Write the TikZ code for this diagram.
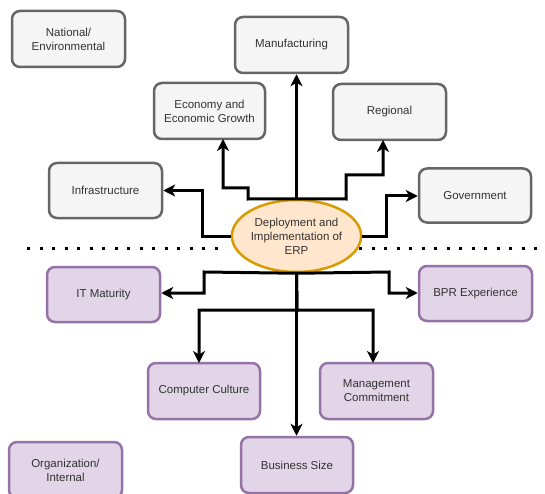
\documentclass[tikz,border=0pt]{standalone}
\usepackage{fontspec}
\setmainfont{Liberation Sans}
\usetikzlibrary{arrows.meta,shapes.geometric}
\definecolor{gfill}{HTML}{F5F5F5}
\definecolor{gline}{HTML}{666666}
\definecolor{pfill}{HTML}{E1D5E7}
\definecolor{pline}{HTML}{9673A6}
\definecolor{efill}{HTML}{FFE6CC}
\definecolor{eline}{HTML}{D79B00}
\definecolor{txt}{HTML}{333333}
\tikzset{
  box/.style={rectangle, rounded corners=8pt, line width=2.5pt, minimum width=113pt, minimum height=56pt,
    align=center, text=txt, font=\fontsize{11.5}{14}\selectfont, inner sep=2pt},
  gbox/.style={box, draw=gline, fill=gfill},
  pbox/.style={box, draw=pline, fill=pfill},
  ebox/.style={ellipse, draw=eline, fill=efill, line width=2.5pt, minimum width=113pt, minimum height=72pt,
    align=center, text=txt, font=\fontsize{11.5}{14}\selectfont, inner sep=0pt},
  arr/.style={line width=3pt, -{Stealth[length=12pt,width=12pt,inset=3.5pt]}, line join=miter},
  dotline/.style={line width=3pt, dash pattern=on 3pt off 9.5pt}
}
\begin{document}
\begin{tikzpicture}[x=1pt,y=-1pt]
\useasboundingbox (0,0) rectangle (545,494);
\draw[dotline] (27,248) -- (226,248);
\draw[dotline] (359,248) -- (545,248);
\node[gbox] (nat) at (68.5,39) {National/\\Environmental};
\node[gbox] (manu) at (291.5,45) {Manufacturing};
\node[gbox, minimum width=111pt] (econ) at (209.5,111) {Economy and\\Economic Growth};
\node[gbox] (reg) at (389.5,112) {Regional};
\node[gbox, minimum height=55pt] (infra) at (105.5,190.5) {Infrastructure};
\node[gbox, minimum width=112pt, minimum height=54pt] (gov) at (475,195.5) {Government};
\node[ebox] (erp) at (296.5,236) {Deployment and\\Implementation of\\ERP};
\node[pbox, minimum height=55pt] (itm) at (103.5,294.5) {IT Maturity};
\node[pbox, minimum height=55pt] (bpr) at (475.5,293.5) {BPR Experience};
\node[pbox, minimum width=112pt] (cc) at (204,391) {Computer Culture};
\node[pbox] (mc) at (376.5,391) {Management\\Commitment};
\node[pbox, minimum width=112pt] (bs) at (297,465) {Business Size};
\node[pbox] (org) at (65.5,470) {Organization/\\Internal};
% top connectors
\draw[arr] (erp.north) -- (erp.north |- manu.south);
\draw[arr] (erp.north) -- (248,199) -- (248,188) -- (223,188) -- (223,139);
\draw[arr] (erp.north) -- (346,199) -- (346,175) -- (383,175) -- (383,140);
\draw[arr] (erp.west) -- (202,236) -- (202,190.5) -- (infra.east);
\draw[arr] (erp.east) -- (386,236) -- (386,196) -- (gov.west |- 0,196);
% bottom connectors
\draw[arr] (erp.south) -- (204,272) -- (204,293) -- (itm.east |- 0,293);
\draw[arr] (erp.south) -- (389,272) -- (389,293) -- (bpr.west |- 0,293);
\draw[arr] (erp.south) -- (erp.south |- bs.north);
\draw[arr] (erp.south) -- (297,310) -- (199,310) -- (199,363);
\draw[arr] (erp.south) -- (297,310) -- (373,310) -- (373,363);
\end{tikzpicture}
\end{document}
